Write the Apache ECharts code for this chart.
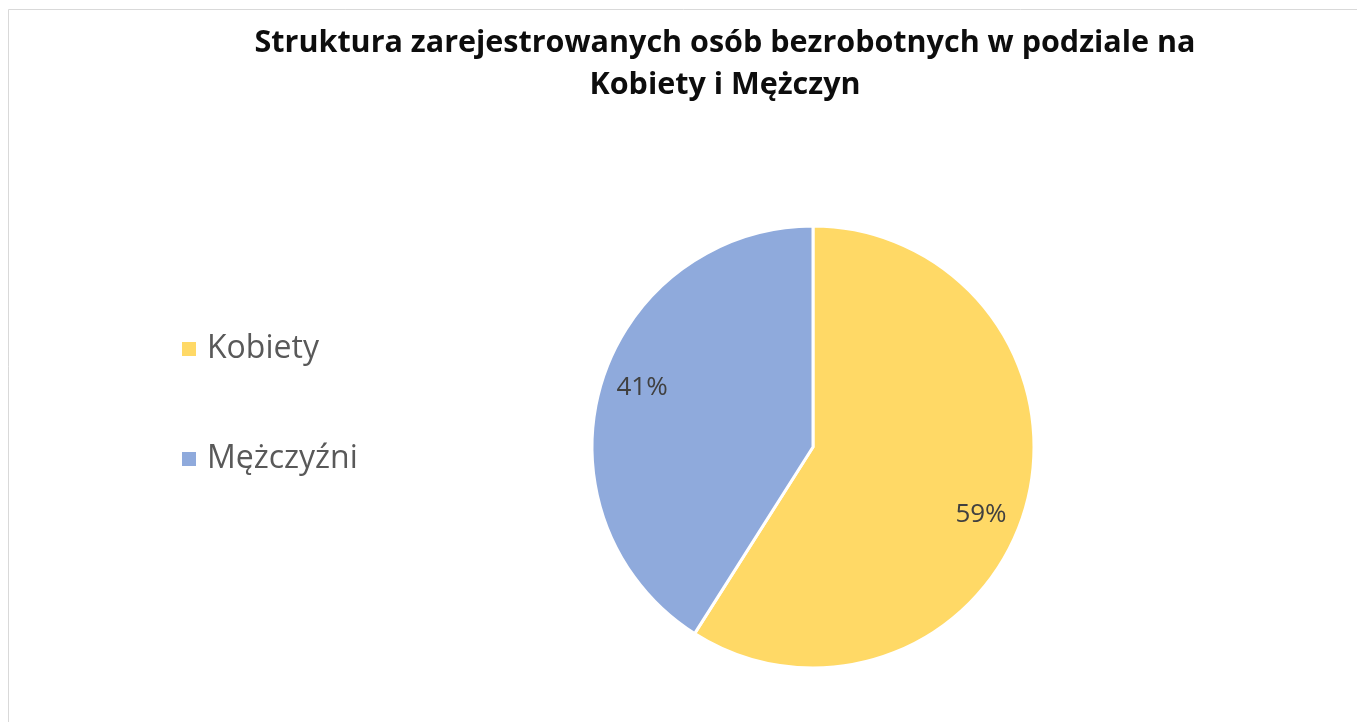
<!DOCTYPE html>
<html>
<head>
<meta charset="utf-8">
<script src="https://cdn.jsdelivr.net/npm/echarts@6/dist/echarts.min.js"></script>
<style>
html,body{margin:0;padding:0;background:#fff;}
#pieChart{width:1357px;height:722px;}
</style>
</head>
<body>
<div id="pieChart"></div>
<script>
// dane wykresu
var categories = ['Kobiety', 'Mężczyźni'];
var values = [59, 41];
var colors = ['#FFD966', '#8FAADC'];
// przesunięcia etykiet (jak w Excelu, bliżej krawędzi)
var labelOffsets = [[59, 36], [-62, -28]];

var pieChart = function () {
    var myChart = echarts.init(document.getElementById('pieChart'));

    var seriesData = [];
    categories.forEach(function (name, i) {
        seriesData.push({
            name: name,
            value: values[i],
            itemStyle: { color: colors[i] },
            label: { offset: labelOffsets[i] }
        });
    });

    var option = {
        backgroundColor: '#fff',
        animation: false,
        graphic: [{
            type: 'rect',
            shape: { x: 8.5, y: 9.5, width: 1400, height: 800 },
            style: { fill: 'none', stroke: '#d9d9d9', lineWidth: 1 }
        }],
        title: {
            text: 'Struktura zarejestrowanych osób bezrobotnych w podziale na\nKobiety i Mężczyn',
            left: 720,
            top: 17,
            textAlign: 'center',
            textStyle: {
                fontFamily: 'Open Sans',
                fontWeight: 'bold',
                fontSize: 30.5,
                lineHeight: 42,
                color: '#0d0d0d'
            }
        },
        legend: {
            orient: 'vertical',
            left: 177,
            top: 328,
            icon: 'rect',
            itemWidth: 14,
            itemHeight: 14,
            itemGap: 78,
            itemStyle: { borderWidth: 0 },
            data: categories,
            textStyle: {
                fontFamily: 'Open Sans',
                fontSize: 32,
                color: '#595959',
                padding: [0, 0, 0, 6]
            }
        },
        series: [{
            name: 'Struktura',
            type: 'pie',
            center: [813, 447],
            radius: 221,
            startAngle: 90,
            clockwise: true,
            data: seriesData,
            itemStyle: { borderColor: '#fff', borderWidth: 3 },
            label: {
                show: true,
                position: 'inside',
                formatter: '{c}%',
                fontFamily: 'Open Sans',
                fontSize: 26,
                color: '#404040'
            },
            labelLine: { show: false },
            emphasis: { disabled: true }
        }]
    };

    myChart.setOption(option);
};

pieChart();
</script>
</body>
</html>
